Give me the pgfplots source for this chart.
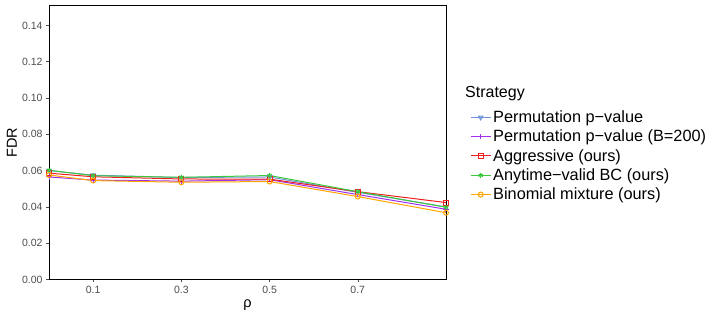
\documentclass[border=0pt]{standalone}
\usepackage{fontspec}
\setmainfont{Liberation Sans}
\usepackage{pgfplots}
\pgfplotsset{compat=1.18}

\definecolor{cperm}{HTML}{6F93DA}
\definecolor{cpurp}{HTML}{A030F0}
\definecolor{caggr}{HTML}{F02020}
\definecolor{canyt}{HTML}{3CC83C}
\definecolor{cbino}{HTML}{FFA500}
\definecolor{gtext}{HTML}{4D4D4D}

\begin{document}
\begin{tikzpicture}
\path[use as bounding box] (0,0) rectangle (719pt,320pt);
\begin{axis}[name=ax,at={(49pt,40.5pt)},anchor=south west,
  scale only axis,width=397pt,height=274pt,
  xmin=0,xmax=0.9,ymin=0,ymax=0.151,
  axis line style={black,line width=0.8pt},
  tick align=outside,major tick length=3pt,
  tick style={gtext,line width=0.5pt},
  xtick pos=bottom,ytick pos=left,
  xtick={0.1,0.3,0.5,0.7},xticklabels={0.1,0.3,0.5,0.7},
  ytick={0,0.02,0.04,0.06,0.08,0.10,0.12,0.14},
  yticklabel style={/pgf/number format/.cd,fixed,fixed zerofill,precision=2},
  /pgf/number format/assume math mode=true,
  tick label style={font=\fontsize{10.5}{12}\selectfont,text=gtext},
  xlabel={ρ},ylabel={FDR},
  label style={font=\fontsize{14.5}{16}\selectfont},
  xlabel style={at={(axis description cs:0.5,0)},anchor=center,yshift=-25.5pt},
  ylabel style={at={(axis description cs:0,0.5)},anchor=center,yshift=37pt},
  every axis plot/.append style={line width=1pt,mark size=2.5pt},
  legend cell align=left,
  legend style={at={([xshift=24pt,yshift=-103pt]rel axis cs:1,1)},anchor=north west,
    draw=none,fill=none,inner sep=0pt,row sep=2pt,
    font=\fontsize{16.3}{17.5}\selectfont,
    nodes={inner sep=2pt}},
  legend image code/.code={\draw[mark repeat=2,mark phase=2,#1] plot coordinates {(0pt,0pt) (10pt,0pt) (20pt,0pt)};},
]
\addplot[cperm,mark=triangle,mark options={rotate=180,solid}] coordinates {(0,0.0600) (0.1,0.0575) (0.3,0.0562) (0.5,0.0565) (0.7,0.0480) (0.9,0.0400)};
\addlegendentry{Permutation p−value}
\addplot[color=cpurp,mark=+,mark size=2.8pt] coordinates {(0,0.0565) (0.1,0.0548) (0.3,0.0542) (0.5,0.0550) (0.7,0.0468) (0.9,0.0387)};
\addlegendentry{Permutation p−value (B=200)}
\addplot[caggr,mark=square] coordinates {(0,0.0586) (0.1,0.0566) (0.3,0.0554) (0.5,0.0553) (0.7,0.0484) (0.9,0.0424)};
\addlegendentry{Aggressive (ours)}
\addplot[canyt,mark=asterisk] coordinates {(0,0.0602) (0.1,0.0572) (0.3,0.0563) (0.5,0.0573) (0.7,0.0484) (0.9,0.0398)};
\addlegendentry{Anytime−valid BC (ours)}
\addplot[cbino,mark=o] coordinates {(0,0.0576) (0.1,0.0545) (0.3,0.0536) (0.5,0.0540) (0.7,0.0457) (0.9,0.0368)};
\addlegendentry{Binomial mixture (ours)}
\end{axis}
\node[anchor=west,inner sep=0pt,font=\fontsize{16}{18}\selectfont] at ([xshift=19pt,yshift=-88.5pt]ax.north east) {Strategy};
\end{tikzpicture}
\end{document}
